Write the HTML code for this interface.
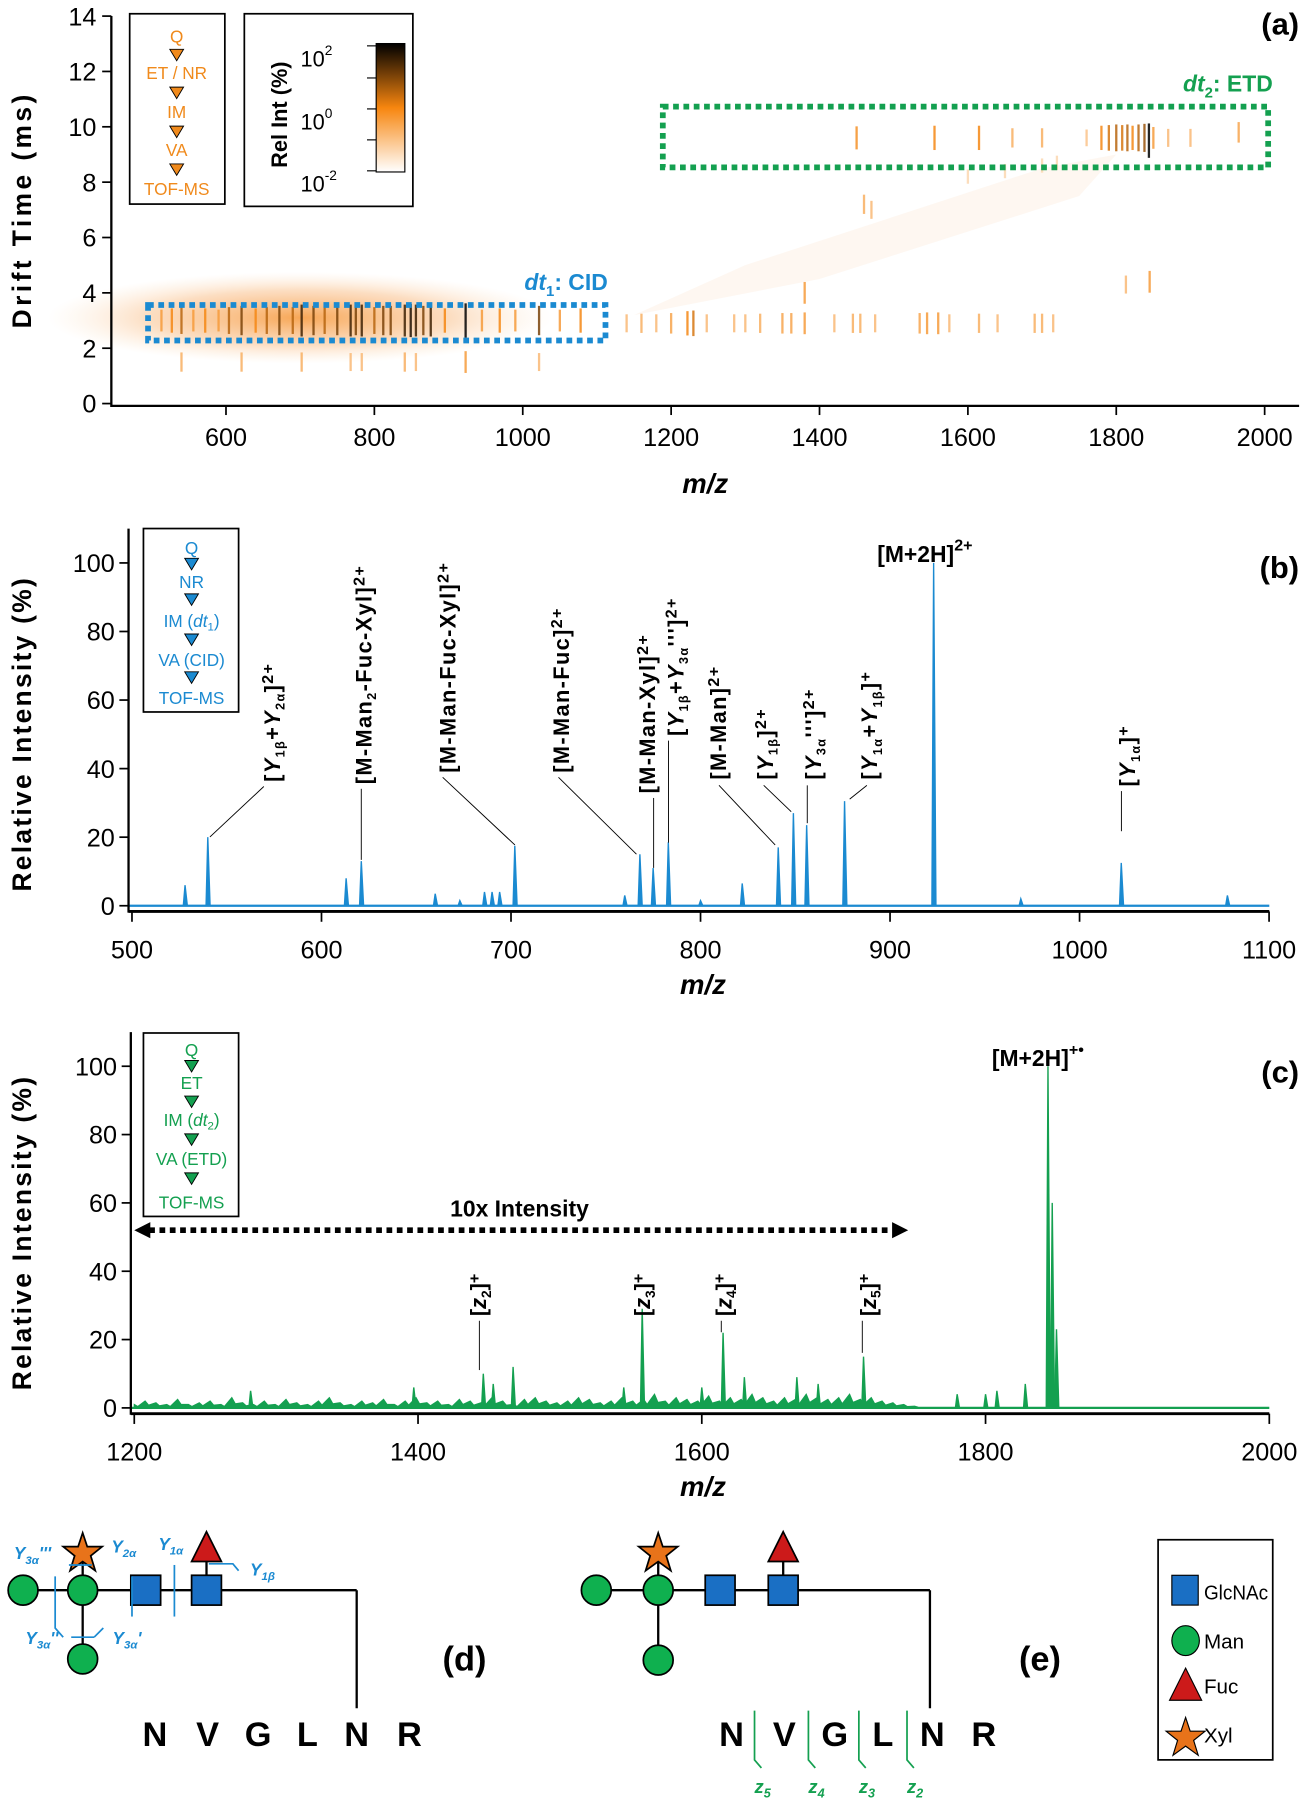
<!DOCTYPE html>
<html><head><meta charset="utf-8"><style>
html,body{margin:0;padding:0;background:#fff}
svg{display:block}
text{font-family:"Liberation Sans",sans-serif}
.tk{font-family:"Liberation Sans Narrow","Liberation Sans",sans-serif;font-size:22px}
</style></head><body>
<svg id="fig" width="1313" height="1800" viewBox="0 0 1145 1570" xmlns="http://www.w3.org/2000/svg">
<defs>
<linearGradient id="cbar" x1="0" y1="1" x2="0" y2="0">
<stop offset="0" stop-color="#fff"/><stop offset="0.5" stop-color="#f7860f"/><stop offset="1" stop-color="#000"/></linearGradient>
<radialGradient id="blob"><stop offset="0" stop-color="#f58a1f" stop-opacity="0.75"/><stop offset="0.6" stop-color="#f7a050" stop-opacity="0.35"/><stop offset="1" stop-color="#fbd0a0" stop-opacity="0"/></radialGradient>
</defs>
<g id="pa"></g>
<g id="pb"></g>
<g id="pc"></g>
<g id="pd">
 <g stroke="#000" stroke-width="2" fill="none">
  <line x1="20" y1="1387" x2="311" y2="1387"/><line x1="311" y1="1387" x2="311" y2="1490"/>
  <line x1="72" y1="1352" x2="72" y2="1447"/><line x1="180" y1="1350" x2="180" y2="1387"/>
  <line x1="520" y1="1387" x2="811" y2="1387"/><line x1="811" y1="1387" x2="811" y2="1490"/>
  <line x1="574" y1="1352" x2="574" y2="1448"/><line x1="683" y1="1350" x2="683" y2="1387"/>
 </g>
 <g stroke="#000" stroke-width="1.5">
  <circle cx="20" cy="1387" r="13" fill="#0fb04f"/>
  <circle cx="72" cy="1387" r="13" fill="#0fb04f"/>
  <circle cx="72" cy="1447" r="13" fill="#0fb04f"/>
  <rect x="114" y="1374" width="26" height="26" fill="#1a6fc4"/>
  <rect x="167" y="1374" width="26" height="26" fill="#1a6fc4"/>
  <polygon points="72,1337 76,1349 89,1349 79,1357 83,1370 72,1362 61,1370 65,1357 55,1349 68,1349" fill="#e8731a"/>
  <polygon points="180,1336 193,1362 167,1362" fill="#cc1a1a"/>
  <circle cx="520" cy="1387" r="13" fill="#0fb04f"/>
  <circle cx="574" cy="1387" r="13" fill="#0fb04f"/>
  <circle cx="574" cy="1448" r="13" fill="#0fb04f"/>
  <rect x="615" y="1374" width="26" height="26" fill="#1a6fc4"/>
  <rect x="670" y="1374" width="26" height="26" fill="#1a6fc4"/>
  <polygon points="574,1337 578,1349 591,1349 581,1357 585,1370 574,1362 563,1370 567,1357 557,1349 570,1349" fill="#e8731a"/>
  <polygon points="683,1336 696,1362 670,1362" fill="#cc1a1a"/>
 </g>
 <g stroke="#1b8ad1" stroke-width="1.5" fill="none">
  <polyline points="60,1365 80,1365"/><polyline points="115,1375 115,1410"/><polyline points="152,1365 152,1410"/><polyline points="182,1364 203,1364 208,1370"/>
  <polyline points="48,1375 48,1420 55,1428"/><polyline points="62,1428 82,1428"/><polyline points="82,1428 90,1420"/>
 </g>
 <g fill="#1b8ad1" font-style="italic" font-weight="bold" font-size="15">
  <text x="12" y="1360">Y<tspan font-size="10" dy="4">3α</tspan><tspan dy="-4">'''</tspan></text>
  <text x="97" y="1354">Y<tspan font-size="10" dy="4">2α</tspan></text>
  <text x="138" y="1352">Y<tspan font-size="10" dy="4">1α</tspan></text>
  <text x="218" y="1374">Y<tspan font-size="10" dy="4">1β</tspan></text>
  <text x="22" y="1434">Y<tspan font-size="10" dy="4">3α</tspan><tspan dy="-4">''</tspan></text>
  <text x="98" y="1434">Y<tspan font-size="10" dy="4">3α</tspan><tspan dy="-4">'</tspan></text>
 </g>
 <g font-weight="bold" font-size="30" text-anchor="middle">
  <text x="135" y="1523">N</text><text x="181" y="1523">V</text><text x="225" y="1523">G</text><text x="268" y="1523">L</text><text x="311" y="1523">N</text><text x="357" y="1523">R</text>
  <text x="638" y="1523">N</text><text x="684" y="1523">V</text><text x="728" y="1523">G</text><text x="770" y="1523">L</text><text x="813" y="1523">N</text><text x="858" y="1523">R</text>
 </g>
 <g stroke="#14a050" stroke-width="1.5" fill="none">
  <polyline points="658,1492 658,1535 664,1542"/><polyline points="705,1492 705,1535 711,1542"/><polyline points="749,1492 749,1535 755,1542"/><polyline points="791,1492 791,1535 797,1542"/>
 </g>
 <g fill="#14a050" font-style="italic" font-weight="bold" font-size="16">
  <text x="658" y="1564">z<tspan font-size="11" dy="4">5</tspan></text><text x="705" y="1564">z<tspan font-size="11" dy="4">4</tspan></text><text x="749" y="1564">z<tspan font-size="11" dy="4">3</tspan></text><text x="791" y="1564">z<tspan font-size="11" dy="4">2</tspan></text>
 </g>
 <text x="405" y="1457" font-weight="bold" font-size="30" text-anchor="middle">(d)</text>
 <text x="907" y="1457" font-weight="bold" font-size="30" text-anchor="middle">(e)</text>
 <g>
  <rect x="1010" y="1343" width="100" height="192" fill="#fff" stroke="#000" stroke-width="1.5"/>
  <rect x="1022" y="1374" width="23" height="26" fill="#1a6fc4" stroke="#000"/>
  <ellipse cx="1034" cy="1431" rx="12" ry="13" fill="#0fb04f" stroke="#000"/>
  <polygon points="1034,1455 1048,1483 1020,1483" fill="#cc1a1a" stroke="#000"/>
  <polygon points="1034,1498 1038,1510 1051,1510 1041,1518 1045,1531 1034,1523 1023,1531 1027,1518 1017,1510 1030,1510" fill="#e8731a" stroke="#000"/>
  <g style="font-size:18px"><text x="1050" y="1395" textLength="56" lengthAdjust="spacingAndGlyphs">GlcNAc</text><text x="1050" y="1438">Man</text><text x="1050" y="1477">Fuc</text><text x="1050" y="1520">Xyl</text></g>
 </g>
</g>
</svg>
<script>
// ---------- Panel (a) data ----------
const aXTicks=[600,800,1000,1200,1400,1600,1800,2000];
const aYTicks=[0,2,4,6,8,10,12,14];
const heatMz=[513,527,540,556,572,590,604,621,640,655,672,690,702,718,733,750,768,775,783,800,812,822,841,849,856,866,876,895,923,945,969,990,1022,1050,1078,1140,1160,1180,1200,1222,1230,1248,1285,1300,1320,1350,1362,1380,1420,1445,1455,1475,1535,1545,1560,1575,1615,1640,1690,1700,1715,1450,1555,1615,1660,1700,1760,1780,1790,1800,1808,1815,1822,1830,1838,1844,1850,1870,1900,1965,1460,1470,1380,1813,1845,540,621,702,768,783,841,856,923,1022,1600,1650,1700,1720];
const heatDt=[3,3,3,3,3,3,3,3,3,3,3,3,3,3,3,3,3,3,3,3,3,3,3,3,3,3,3,3,3,3,3,3,3,3,3,2.9,2.9,2.9,2.9,2.9,2.9,2.9,2.9,2.9,2.9,2.9,2.9,2.9,2.9,2.9,2.9,2.9,2.9,2.9,2.9,2.9,2.9,2.9,2.9,2.9,2.9,9.6,9.6,9.6,9.6,9.6,9.6,9.6,9.6,9.6,9.6,9.6,9.6,9.6,9.6,9.5,9.6,9.6,9.6,9.8,7.2,7.0,4.0,4.3,4.4,1.5,1.5,1.5,1.5,1.5,1.5,1.5,1.5,1.5,8.2,8.4,8.6,8.7];
const heatInt=[0.5,0.6,0.7,0.5,0.6,0.5,0.7,0.8,0.6,0.7,0.8,0.7,0.9,0.8,0.7,0.8,0.9,0.8,0.9,0.7,0.8,0.8,0.9,0.95,0.9,0.8,0.9,0.6,1.0,0.5,0.6,0.5,0.8,0.5,0.6,0.35,0.4,0.35,0.45,0.6,0.65,0.35,0.35,0.35,0.4,0.45,0.45,0.5,0.35,0.4,0.4,0.35,0.45,0.5,0.5,0.35,0.4,0.35,0.4,0.4,0.35,0.55,0.6,0.6,0.4,0.4,0.3,0.6,0.65,0.7,0.65,0.7,0.6,0.7,0.75,1.0,0.5,0.35,0.35,0.45,0.4,0.35,0.5,0.35,0.5,0.4,0.4,0.4,0.35,0.35,0.4,0.35,0.5,0.35,0.2,0.2,0.2,0.2];
// ---------- Panel (b) data ----------
const bXTicks=[500,600,700,800,900,1000,1100];
const yTicks=[0,20,40,60,80,100];
const bMz=[528,540,613,621,660,673,686,690,694,702,760,768,775,783,800,822,841,849,856,876,923,969,1022,1078];
const bInt=[6,20,8,13,3.5,1.5,4,4,4,17.5,3,15,11,18.5,1.5,6.5,17,27,23.5,30.5,100,2,12.5,3];
// ---------- Panel (c) data ----------
const cXTicks=[1200,1400,1600,1800,2000];
const cMz=[1282,1397,1446,1453,1467,1545,1558,1600,1615,1630,1667,1682,1714,1780,1800,1808,1828,1844,1847,1850];
const cInt=[5,6,10,7,12,6,29,6,22,9,9,7,15,4,4,5,7,100,60,23];
const cNoise=[1,2,1.5,1,2.5,1,1.5,2,1,3,1.5,1,2,1,2.5,1.5,1,2,3,1.5,1,2,1.5,2.5,1,2,3,1.5,2,1,2.5,2,1.5,3,2,1,2.5,3,2,1.5,2,3,2.5,1.5,2,3,2,2.5,4,2,3,2.5,2,3.5,2,3,2.5,4,3,2,3,2.5,4,3,2.5,3,4,2.5,3,2,1.5,1,0.5];

const NS='http://www.w3.org/2000/svg';
function mk(p,tag,at){const e=document.createElementNS(NS,tag);for(const k in at)e.setAttribute(k,at[k]);p.appendChild(e);return e;}
function heatColor(v){
  let r,g,b; if(v<0.6){const t=v/0.6;r=255-(255-245)*t;g=255-(255-135)*t;b=255-(255-20)*t;}
  else{const t=(v-0.6)/0.4;r=245*(1-t);g=135*(1-t);b=20*(1-t);} return `rgb(${r|0},${g|0},${b|0})`;}

(function(){
const g=document.getElementById('pa');
const X=m=>197+(m-600)*0.6471, Y=d=>352-d*24.14;
const blob=mk(g,'ellipse',{cx:X(700),cy:Y(3.1),rx:220,ry:40,fill:'url(#blob)'});


const diag=mk(g,'polygon',{points:`${X(1150)},${Y(3.2)} ${X(1300)},${Y(5)} ${X(1700)},${Y(8.5)} ${X(1800)},${Y(9)} ${X(1750)},${Y(7.5)} ${X(1400)},${Y(4.5)}`,fill:'#fbe0c8',opacity:0.25});


for(let i=0;i<heatMz.length;i++){
 const h=8+heatInt[i]*22;
 const r=mk(g,'rect',{x:X(heatMz[i])-1,y:Y(heatDt[i])-h/2,width:2,height:h,fill:heatColor(heatInt[i]),opacity:0.85});
 
 
}
mk(g,'line',{x1:97,y1:14,x2:97,y2:355,stroke:'#000','stroke-width':2});
mk(g,'line',{x1:97,y1:354,x2:1133,y2:354,stroke:'#000','stroke-width':2});
aXTicks.forEach(t=>{mk(g,'line',{x1:X(t),y1:354,x2:X(t),y2:362,stroke:'#000','stroke-width':1.5});
 const e=mk(g,'text',{x:X(t),y:389,'text-anchor':'middle',class:'tk'});e.textContent=t;
 
 });
aYTicks.forEach(t=>{mk(g,'line',{x1:89,y1:Y(t),x2:97,y2:Y(t),stroke:'#000','stroke-width':1.5});
 const e=mk(g,'text',{x:84,y:Y(t)+8,'text-anchor':'end',class:'tk'});e.textContent=t;
 
 });
g.insertAdjacentHTML('beforeend',`
<text transform="translate(27,183) rotate(-90)" text-anchor="middle" font-weight="bold" font-size="23" letter-spacing="3">Drift Time (ms)</text>
<text x="615" y="430" text-anchor="middle" font-weight="bold" font-style="italic" font-size="24">m/z</text>
<text x="1133" y="30" text-anchor="end" font-weight="bold" font-size="27">(a)</text>
<rect x="129" y="266" width="399" height="31" fill="none" stroke="#1b8ad1" stroke-width="5" stroke-dasharray="5,4"/>
<rect x="578" y="93" width="528" height="53" fill="none" stroke="#14a050" stroke-width="5" stroke-dasharray="5,4"/>
<text x="530" y="253" text-anchor="end" fill="#1b8ad1" font-weight="bold" font-size="20"><tspan font-style="italic">dt</tspan><tspan font-size="13" dy="5">1</tspan><tspan dy="-5">: CID</tspan></text>
<text x="1110" y="80" text-anchor="end" fill="#14a050" font-weight="bold" font-size="20"><tspan font-style="italic">dt</tspan><tspan font-size="13" dy="5">2</tspan><tspan dy="-5">: ETD</tspan></text>
<g>
<rect x="113" y="12" width="83" height="166" fill="#fff" stroke="#000" stroke-width="1.5"/>
<g fill="#f08a1c" text-anchor="middle" class="tk"><text x="154" y="37" style="font-size:15px">Q</text><text x="154" y="69" style="font-size:15px">ET / NR</text><text x="154" y="103" style="font-size:15px">IM</text><text x="154" y="136" style="font-size:15px">VA</text><text x="154" y="170" style="font-size:15px">TOF-MS</text></g>
<g fill="#f08a1c" stroke="#000" stroke-width="0.8"><polygon points="148,43 160,43 154,53"/><polygon points="148,76 160,76 154,86"/><polygon points="148,110 160,110 154,120"/><polygon points="148,143 160,143 154,153"/></g>
</g>
<g>
<rect x="213" y="12" width="147" height="168" fill="#fff" stroke="#000" stroke-width="1.5"/>
<text transform="translate(250,100) rotate(-90)" text-anchor="middle" font-weight="bold" font-size="19">Rel Int (%)</text>
<rect x="328" y="38" width="25" height="112" fill="url(#cbar)" stroke="#000"/>
<g stroke="#000"><line x1="320" y1="40" x2="328" y2="40"/><line x1="320" y1="68" x2="328" y2="68"/><line x1="320" y1="95" x2="328" y2="95"/><line x1="320" y1="122" x2="328" y2="122"/><line x1="320" y1="149" x2="328" y2="149"/></g>
<g class="tk" style="font-size:19px"><text x="262" y="58">10<tspan font-size="12" dy="-10">2</tspan></text><text x="262" y="113">10<tspan font-size="12" dy="-10">0</tspan></text><text x="262" y="167">10<tspan font-size="12" dy="-10">-2</tspan></text></g>
</g>`);
})();

function spectrum(gid,xt,X,Y,y0,left,right,color,mzs,ints,noise,nx0,nx1){
 const g=document.getElementById(gid);
 if(noise){let d=`M${X(nx0)},${Y(0)}`;noise.forEach((v,i)=>{const m=nx0+(nx1-nx0)*i/(noise.length-1);d+=` L${X(m)},${Y(v)} L${X(m)+3},${Y(v*0.4)}`;});d+=` L${X(nx1)},${Y(0)} Z`;
  const n=mk(g,'path',{d:d,fill:color,stroke:color,'stroke-width':1});
  
  }
 mk(g,'line',{x1:left,y1:Y(0),x2:right,y2:Y(0),stroke:color,'stroke-width':2});
 for(let i=0;i<mzs.length;i++){
  const p=mk(g,'path',{d:`M${X(mzs[i])-1.5},${Y(0)} L${X(mzs[i])},${Y(ints[i])} L${X(mzs[i])+2},${Y(0)} Z`,fill:color,stroke:color,'stroke-width':1.2});
  
  
 }
 mk(g,'line',{x1:left,y1:Y(110),x2:left,y2:y0+6,stroke:'#000','stroke-width':2});
 mk(g,'line',{x1:left,y1:y0+5,x2:right,y2:y0+5,stroke:'#000','stroke-width':2.5});
 xt.forEach(t=>{mk(g,'line',{x1:X(t),y1:y0+5,x2:X(t),y2:y0+14,stroke:'#000','stroke-width':1.5});
  const e=mk(g,'text',{x:X(t),y:y0+46,'text-anchor':'middle',class:'tk'});e.textContent=t;
  
  });
 yTicks.forEach(t=>{mk(g,'line',{x1:left-8,y1:Y(t),x2:left,y2:Y(t),stroke:'#000','stroke-width':1.5});
  const e=mk(g,'text',{x:left-12,y:Y(t)+8,'text-anchor':'end',class:'tk'});e.textContent=t;
  
  });
 return g;
}
(function(){
const X=m=>115+(m-500)*1.653, Y=v=>790-v*2.99;
const g=spectrum('pb',bXTicks,X,Y,790,112,1107,'#1b8ad1',bMz,bInt,null);
const rl=(x,y,html)=>`<text transform="translate(${x},${y}) rotate(-90)" font-weight="bold" font-size="19" letter-spacing="1.2">${html}</text>`;
const s=(t)=>`<tspan font-size="11" dy="4">${t}</tspan><tspan dy="-4">`;
g.insertAdjacentHTML('beforeend',`
<text transform="translate(27,640) rotate(-90)" text-anchor="middle" font-weight="bold" font-size="23" letter-spacing="2">Relative Intensity (%)</text>
<text x="613" y="867" text-anchor="middle" font-weight="bold" font-style="italic" font-size="24">m/z</text>
<text x="1133" y="504" text-anchor="end" font-weight="bold" font-size="27">(b)</text>
<text x="765" y="490" font-weight="bold" font-size="20">[M+2H]<tspan font-size="14" dy="-10">2+</tspan></text>
<g>
${rl(244,682,`[<tspan font-style="italic">Y</tspan>${s('1β')}+<tspan font-style="italic">Y</tspan>${s('2α')}]</tspan></tspan><tspan font-size="14" dy="-6">2+</tspan>`)}
${rl(324,684,`[M-Man${s('2')}-Fuc-Xyl]</tspan><tspan font-size="14" dy="-6">2+</tspan>`)}
${rl(397,674,`[M-Man-Fuc-Xyl]<tspan font-size="14" dy="-6">2+</tspan>`)}
${rl(496,674,`[M-Man-Fuc]<tspan font-size="14" dy="-6">2+</tspan>`)}
${rl(571,692,`[M-Man-Xyl]<tspan font-size="14" dy="-6">2+</tspan>`)}
${rl(596,642,`[<tspan font-style="italic">Y</tspan>${s('1β')}+<tspan font-style="italic">Y</tspan>${s('3α')}''']</tspan></tspan><tspan font-size="14" dy="-6">2+</tspan>`)}
${rl(633,680,`[M-Man]<tspan font-size="14" dy="-6">2+</tspan>`)}
${rl(674,680,`[<tspan font-style="italic">Y</tspan>${s('1β')}]</tspan><tspan font-size="14" dy="-6">2+</tspan>`)}
${rl(716,680,`[<tspan font-style="italic">Y</tspan>${s('3α')}''']</tspan><tspan font-size="14" dy="-6">2+</tspan>`)}
${rl(765,680,`[<tspan font-style="italic">Y</tspan>${s('1α')}+<tspan font-style="italic">Y</tspan>${s('1β')}]</tspan></tspan><tspan font-size="14" dy="-6">+</tspan>`)}
${rl(990,686,`[<tspan font-style="italic">Y</tspan>${s('1α')}]</tspan><tspan font-size="14" dy="-6">+</tspan>`)}
<g stroke="#000" stroke-width="0.8"><line x1="230" y1="686" x2="183" y2="730"/><line x1="315" y1="688" x2="315" y2="750"/><line x1="386" y1="678" x2="449" y2="737"/><line x1="487" y1="678" x2="555" y2="745"/><line x1="570" y1="696" x2="570" y2="757"/><line x1="583" y1="646" x2="583" y2="735"/><line x1="627" y1="685" x2="676" y2="737"/><line x1="666" y1="685" x2="690" y2="708"/><line x1="704" y1="685" x2="704" y2="718"/><line x1="756" y1="685" x2="741" y2="697"/><line x1="978" y1="690" x2="978" y2="725"/></g>
</g>
<g>
<rect x="125" y="461" width="83" height="160" fill="#fff" stroke="#000" stroke-width="1.5"/>
<g fill="#1b8ad1" text-anchor="middle" class="tk"><text x="167" y="483" style="font-size:15px">Q</text><text x="167" y="513" style="font-size:15px">NR</text><text x="167" y="547" style="font-size:15px">IM (<tspan font-style="italic">dt</tspan><tspan font-size="10" dy="3">1</tspan><tspan dy="-3">)</tspan></text><text x="167" y="581" style="font-size:15px">VA (CID)</text><text x="167" y="614" style="font-size:15px">TOF-MS</text></g>
<g fill="#1b8ad1" stroke="#000" stroke-width="0.8"><polygon points="161,487 173,487 167,497"/><polygon points="161,518 173,518 167,528"/><polygon points="161,553 173,553 167,563"/><polygon points="161,586 173,586 167,596"/></g>
</g>`);
})();
(function(){
const X=m=>117+(m-1200)*1.2375, Y=v=>1228-v*2.98;
const g=spectrum('pc',cXTicks,X,Y,1228,114,1107,'#14a050',cMz,cInt,cNoise,1200,1750);
const zl=(x,n)=>`<text transform="translate(${x},1148) rotate(-90)" font-weight="bold" font-size="19">[<tspan font-style="italic">z</tspan><tspan font-size="12" dy="4">${n}</tspan><tspan dy="-4">]</tspan><tspan font-size="14" dy="-6">+</tspan></text>`;
g.insertAdjacentHTML('beforeend',`
<text transform="translate(27,1075) rotate(-90)" text-anchor="middle" font-weight="bold" font-size="23" letter-spacing="2">Relative Intensity (%)</text>
<text x="613" y="1305" text-anchor="middle" font-weight="bold" font-style="italic" font-size="24">m/z</text>
<text x="1133" y="944" text-anchor="end" font-weight="bold" font-size="27">(c)</text>
<text x="865" y="930" font-weight="bold" font-size="20">[M+2H]<tspan font-size="14" dy="-10">+•</tspan></text>
<g>
<line x1="130" y1="1073" x2="778" y2="1073" stroke="#000" stroke-width="5" stroke-dasharray="5,4"/>
<polygon points="117,1073 131,1066 131,1080"/><polygon points="792,1073 778,1066 778,1080"/>
<text x="453" y="1061" text-anchor="middle" font-weight="bold" font-size="20">10x Intensity</text></g>
<g>
${zl(424,2)}${zl(567,3)}${zl(638,4)}${zl(764,5)}
<g stroke="#000" stroke-width="0.8"><line x1="418" y1="1152" x2="418" y2="1195"/><line x1="629" y1="1152" x2="629" y2="1162"/><line x1="752" y1="1152" x2="752" y2="1180"/></g>
</g>
<g>
<rect x="125" y="901" width="83" height="160" fill="#fff" stroke="#000" stroke-width="1.5"/>
<g fill="#14a050" text-anchor="middle" class="tk"><text x="167" y="921" style="font-size:15px">Q</text><text x="167" y="950" style="font-size:15px">ET</text><text x="167" y="982" style="font-size:15px">IM (<tspan font-style="italic">dt</tspan><tspan font-size="10" dy="3">2</tspan><tspan dy="-3">)</tspan></text><text x="167" y="1016" style="font-size:15px">VA (ETD)</text><text x="167" y="1054" style="font-size:15px">TOF-MS</text></g>
<g fill="#14a050" stroke="#000" stroke-width="0.8"><polygon points="161,925 173,925 167,935"/><polygon points="161,956 173,956 167,966"/><polygon points="161,989 173,989 167,999"/><polygon points="161,1023 173,1023 167,1033"/></g>
</g>`);
})();
</script>
</body></html>
